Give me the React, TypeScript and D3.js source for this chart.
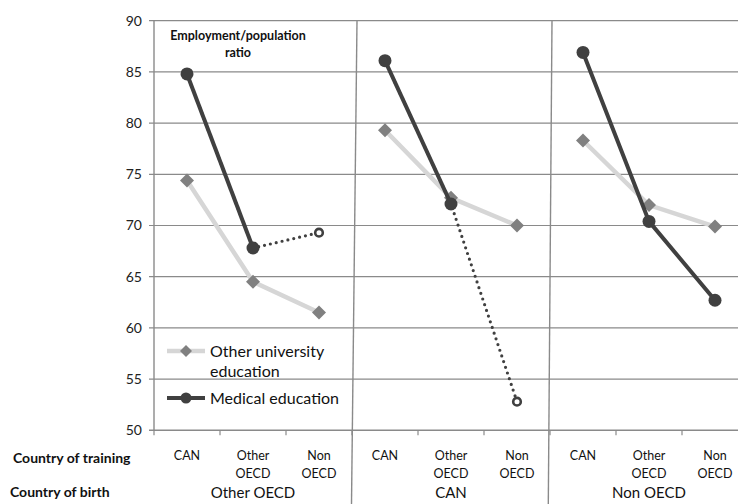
import React from "react";
import * as d3 from "d3";

const birthGroups = ["Other OECD", "CAN", "Non OECD"];
const trainingLabels = [["CAN"], ["Other", "OECD"], ["Non", "OECD"]];
const yTicks = [50, 55, 60, 65, 70, 75, 80, 85, 90];

const otherUniversity = [74.4, 64.5, 61.5, 79.3, 72.7, 70.0, 78.3, 72.0, 69.9];
const medical: (number | null)[] = [84.8, 67.8, null, 86.1, 72.1, null, 86.9, 70.4, 62.7];
const medicalSmallSample: (number | null)[] = [84.8, 67.8, 69.3, 86.1, 72.1, 52.8, null, null, null];

const W = 738;
const H = 504;
const FONT = "Lato, 'Open Sans', sans-serif";
const GRID = "#8a8a8a";
const DARK = "#404040";
const LIGHT = "#d6d6d6";
const DIAMOND = "#808080";

export default function App() {
  const x = d3.scaleLinear().domain([-0.5, 8.5]).range([154, 748]);
  const y = d3.scaleLinear().domain([50, 90]).range([430.3, 20.7]);

  const lineGen = d3
    .line<[number, number | null]>()
    .defined((d) => d[1] != null)
    .x((d) => x(d[0]))
    .y((d) => y(d[1] as number));

  const panelSeries = (vals: (number | null)[]) =>
    [0, 1, 2].map((p) => [0, 1, 2].map((k) => [p * 3 + k, vals[p * 3 + k]] as [number, number | null]));

  const diamond = (cx: number, cy: number, r: number) =>
    `M${cx},${cy - r}L${cx + r},${cy}L${cx},${cy + r}L${cx - r},${cy}Z`;

  const xLeft = x(-0.5);
  const tickXs = d3.range(0, 10).map((k) => x(k - 0.5));

  return (
    <svg
      width={W}
      height={H}
      style={{ position: "absolute", left: 0, top: 0, background: "#fff" }}
      fontFamily={FONT}
    >
      {/* gridlines */}
      {yTicks.map((t) => (
        <line key={"g" + t} x1={xLeft - 5} x2={W} y1={y(t)} y2={y(t)} stroke={GRID} strokeWidth={t === 50 ? 1.6 : 1.2} />
      ))}
      {/* left axis */}
      <line x1={xLeft} x2={xLeft} y1={y(90)} y2={y(50)} stroke={GRID} strokeWidth={1.4} />
      {/* bottom ticks */}
      {tickXs.map((tx, i) => (
        <line key={"t" + i} x1={tx} x2={tx} y1={y(50)} y2={y(50) + 5} stroke={GRID} strokeWidth={1.2} />
      ))}
      {/* panel separators */}
      <line x1={357} y1={y(90)} x2={351.5} y2={H} stroke={GRID} strokeWidth={1.4} />
      <line x1={552} y1={y(90)} x2={548.3} y2={H} stroke={GRID} strokeWidth={1.4} />

      {/* y tick labels */}
      {yTicks.map((t) => (
        <text key={"yl" + t} x={142} y={y(t)} dy="0.35em" textAnchor="end" fontSize={14} fill="#222">
          {t}
        </text>
      ))}

      {/* other university education */}
      {panelSeries(otherUniversity).map((s, i) => (
        <path key={"ou" + i} d={lineGen(s) || ""} fill="none" stroke={LIGHT} strokeWidth={4.5} />
      ))}
      {otherUniversity.map((v, i) => (
        <path key={"od" + i} d={diamond(x(i), y(v), 7)} fill={DIAMOND} />
      ))}

      {/* medical dotted (small sample) */}
      {panelSeries(medicalSmallSample).map((s, i) => (
        <path
          key={"md" + i}
          d={lineGen(s) || ""}
          fill="none"
          stroke={DARK}
          strokeWidth={3.2}
          strokeDasharray="0 6"
          strokeLinecap="round"
        />
      ))}

      {/* medical */}
      {panelSeries(medical).map((s, i) => (
        <path key={"m" + i} d={lineGen(s) || ""} fill="none" stroke={DARK} strokeWidth={4} />
      ))}
      {medical.map((v, i) =>
        v == null ? null : <circle key={"mc" + i} cx={x(i)} cy={y(v)} r={6.5} fill={DARK} />
      )}
      {medicalSmallSample.map((v, i) =>
        v == null || medical[i] != null ? null : (
          <circle key={"mo" + i} cx={x(i)} cy={y(v)} r={3.8} fill="#fff" stroke={DARK} strokeWidth={2.6} />
        )
      )}

      {/* title */}
      <text x={238} y={40} textAnchor="middle" fontSize={12.5} fontWeight="bold" fill="#111">
        Employment/population
      </text>
      <text x={238} y={57} textAnchor="middle" fontSize={12.5} fontWeight="bold" fill="#111">
        ratio
      </text>

      {/* legend */}
      <line x1={167} x2={205} y1={351} y2={351} stroke={LIGHT} strokeWidth={4.5} />
      <path d={diamond(186, 351, 6)} fill={DIAMOND} />
      <text x={210} y={357} fontSize={16} fill="#111">Other university</text>
      <text x={210} y={377} fontSize={16} fill="#111">education</text>
      <line x1={167} x2={205} y1={398} y2={398} stroke={DARK} strokeWidth={4} />
      <circle cx={186} cy={398} r={5.5} fill={DARK} />
      <text x={210} y={404} fontSize={16} fill="#111">Medical education</text>

      {/* category labels */}
      {d3.range(9).map((i) =>
        trainingLabels[i % 3].map((ln, j) => (
          <text key={"c" + i + j} x={x(i)} y={460 + j * 17.5} textAnchor="middle" fontSize={12.5} fill="#111">
            {ln}
          </text>
        ))
      )}
      {birthGroups.map((g, p) => (
        <text key={"b" + p} x={x(p * 3 + 1)} y={498} textAnchor="middle" fontSize={15} fill="#111">
          {g}
        </text>
      ))}

      <text x={13} y={463} fontSize={14} fontWeight="bold" fill="#111">Country of training</text>
      <text x={10} y={497} fontSize={14} fontWeight="bold" fill="#111">Country of birth</text>
    </svg>
  );
}
